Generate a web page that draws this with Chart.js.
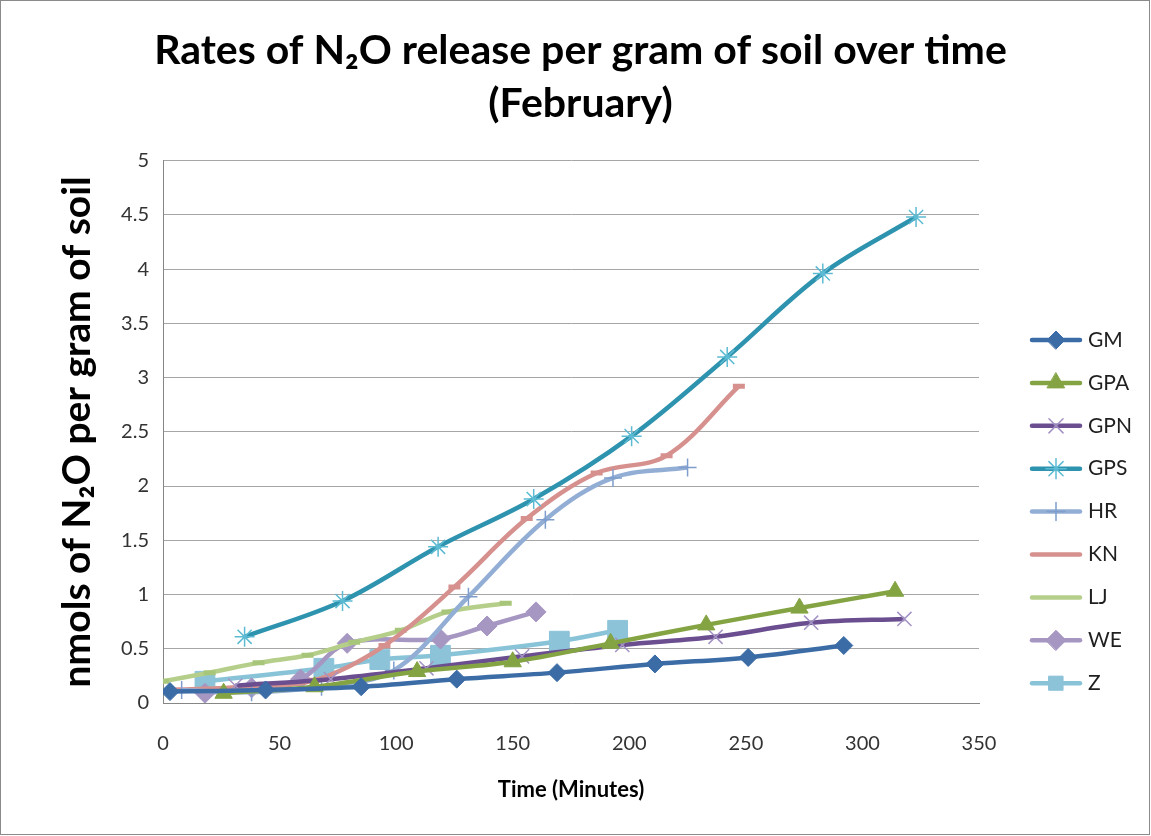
<!DOCTYPE html>
<html>
<head>
<meta charset="utf-8">
<title>Rates of N2O release per gram of soil over time (February)</title>
<script src="https://cdn.jsdelivr.net/npm/chart.js@4.4.1/dist/chart.umd.min.js"></script>
<style>
  html, body { margin: 0; padding: 0; background: #fff; }
  #wrap { position: relative; width: 1151px; height: 836px; }
</style>
</head>
<body>
<div id="wrap"><canvas id="n2oChart" width="1151" height="836"></canvas></div>
<script>
// time in minutes, rate in nmols N2O per gram of soil
const gmTime  = [3, 44, 85, 126, 169, 211, 251, 292];
const gmRate  = [0.105, 0.12, 0.15, 0.22, 0.28, 0.36, 0.42, 0.53];
const gpaTime = [26, 65, 109, 150, 192, 233, 273, 314];
const gpaRate = [0.09, 0.15, 0.29, 0.38, 0.55, 0.72, 0.875, 1.03];
const gpnTime = [31, 72, 113, 154, 197, 237, 278, 318];
const gpnRate = [0.16, 0.22, 0.32, 0.43, 0.535, 0.61, 0.74, 0.775];
const gpsTime = [35, 77, 118, 159, 201, 242, 283, 323];
const gpsRate = [0.61, 0.94, 1.44, 1.88, 2.46, 3.19, 3.96, 4.48];
const hrTime  = [8, 38, 68, 99, 131, 164, 193, 225];
const hrRate  = [0.12, 0.10, 0.15, 0.30, 0.98, 1.69, 2.075, 2.17];
const knTime  = [5, 35, 65, 95, 125, 156, 186, 216, 247];
const knRate  = [0.12, 0.15, 0.21, 0.53, 1.07, 1.70, 2.12, 2.28, 2.92];
const ljTime  = [0, 20, 41, 62, 82, 102, 122, 147];
const ljRate  = [0.2, 0.28, 0.37, 0.44, 0.56, 0.67, 0.84, 0.92];
const weTime  = [18, 38, 59, 79, 119, 139, 160];
const weRate  = [0.09, 0.14, 0.22, 0.55, 0.59, 0.71, 0.84];
const zTime   = [18, 69, 93, 119, 170, 195];
const zRate   = [0.2, 0.32, 0.40, 0.44, 0.57, 0.67];

const yTicks = [0, 0.5, 1, 1.5, 2, 2.5, 3, 3.5, 4, 4.5, 5];
const xTicks = [0, 50, 100, 150, 200, 250, 300, 350];

const FONT = "Lato, 'Open Sans', 'Liberation Sans', sans-serif";

function pts(t, v) {
    return t.map((x, i) => ({ x: x, y: v[i] }));
}

function series(label, t, v, color, marker, markerColor, radius, mbw) {
    return {
        label: label,
        data: pts(t, v),
        borderColor: color,
        backgroundColor: markerColor,
        borderWidth: 4.5,
        tension: 0.35,
        pointStyle: marker,
        pointRadius: radius,
        pointHoverRadius: radius,
        pointBackgroundColor: markerColor,
        pointBorderColor: markerColor,
        pointBorderWidth: mbw,
    };
}

const datasets = [
    series("GM",  gmTime,  gmRate,  "#3b6ca6", "rectRot",  "#3b6ca6", 9, 1),
    series("GPA", gpaTime, gpaRate, "#84a443", "triangle", "#84a443", 10, 1),
    series("GPN", gpnTime, gpnRate, "#6a4e8f", "crossRot", "#a393c4", 10, 1.5),
    series("GPS", gpsTime, gpsRate, "#2e93ae", "star",     "#5cbbd3", 10, 1.5),
    series("HR",  hrTime,  hrRate,  "#93aed5", "cross",    "#7e9dcc", 9, 1.5),
    series("KN",  knTime,  knRate,  "#d6918f", "line",     "#d6918f", 6, 5),
    series("LJ",  ljTime,  ljRate,  "#b5cf8a", "line",     "#a8c67a", 6, 5),
    series("WE",  weTime,  weRate,  "#a696c2", "rectRot",  "#a696c2", 10, 1),
    series("Z",   zTime,   zRate,   "#89c3d7", "rect",     "#8cc3d8", 14, 1),
];

// legend at the right: line sample with marker, like the original
const sideLegend = {
    id: "sideLegend",
    afterDraw(chart) {
        const ctx = chart.ctx;
        chart.data.datasets.forEach((ds, i) => {
            const y = 340 + i * 42.9;
            ctx.save();
            ctx.strokeStyle = ds.borderColor;
            ctx.lineWidth = 4.5;
            ctx.lineCap = "round";
            ctx.beginPath();
            ctx.moveTo(1032, y);
            ctx.lineTo(1080, y);
            ctx.stroke();
            if (ds.pointStyle !== "line") {
                ctx.fillStyle = ds.pointBackgroundColor;
                ctx.strokeStyle = ds.pointBorderColor;
                ctx.lineWidth = ds.pointBorderWidth;
                Chart.helpers.drawPoint(ctx, {
                    pointStyle: ds.pointStyle,
                    radius: Math.min(ds.pointRadius, 10),
                    borderWidth: ds.pointBorderWidth,
                    rotation: 0,
                }, 1056, y);
            }
            ctx.fillStyle = "#1f1f1f";
            ctx.font = "21px " + FONT;
            ctx.textBaseline = "middle";
            ctx.fillText(ds.label, 1088, y);
            ctx.restore();
        });
    },
};

const frame = {
    id: "frame",
    beforeDraw(chart) {
        const ctx = chart.ctx;
        ctx.save();
        ctx.fillStyle = "#ffffff";
        ctx.fillRect(0, 0, chart.width, chart.height);
        ctx.strokeStyle = "#8a8a8a";
        ctx.lineWidth = 1;
        ctx.strokeRect(0.5, 0.5, chart.width - 2, chart.height - 2);
        ctx.restore();
    },
};

new Chart(document.getElementById("n2oChart"), {
    type: "line",
    data: { datasets: datasets },
    options: {
        responsive: false,
        animation: false,
        layout: { padding: { top: 24, left: 10, right: 0, bottom: 0 } },
        plugins: {
            legend: { display: false },
            tooltip: { enabled: false },
            title: {
                display: true,
                text: ["Rates of N\u2082O release per gram of soil over time", "(February)"],
                color: "#000",
                font: { family: FONT, size: 41, weight: "bold", lineHeight: 1.3 },
                padding: { top: 0, bottom: 30 },
            },
        },
        scales: {
            x: {
                type: "linear",
                min: 0,
                max: 350,
                afterBuildTicks: (scale) => { scale.ticks = xTicks.map(v => ({ value: v })); },
                afterFit: (scale) => { scale.height = 133; },
                grid: { display: false, drawTicks: false },
                border: { display: true, color: "#868686", width: 1 },
                ticks: { color: "#333", padding: 29, font: { family: FONT, size: 20 } },
                title: {
                    display: true,
                    text: "Time (Minutes)",
                    color: "#000",
                    font: { family: FONT, size: 22, weight: "bold" },
                    padding: { top: 0, bottom: 33 },
                },
            },
            y: {
                type: "linear",
                min: 0,
                max: 5,
                afterBuildTicks: (scale) => { scale.ticks = yTicks.map(v => ({ value: v })); },
                afterFit: (scale) => { scale.width = 153; },
                grid: { color: "#a6a6a6", lineWidth: 1, drawTicks: false },
                border: { display: true, color: "#868686", width: 1 },
                ticks: {
                    color: "#333",
                    padding: 14,
                    font: { family: FONT, size: 20 },
                    callback: (value) => String(value),
                },
                title: {
                    display: true,
                    text: "nmols of N\u2082O per gram of soil",
                    color: "#000",
                    font: { family: FONT, size: 39, weight: "bold" },
                    padding: { top: 44, bottom: 0 },
                },
            },
            // empty room on the right for the legend
            legendRoom: {
                type: "linear",
                position: "right",
                display: true,
                afterFit: (scale) => { scale.width = 172; },
                grid: { display: false, drawTicks: false },
                border: { display: false },
                ticks: { display: false },
            },
        },
    },
    plugins: [frame, sideLegend],
});
</script>
</body>
</html>
